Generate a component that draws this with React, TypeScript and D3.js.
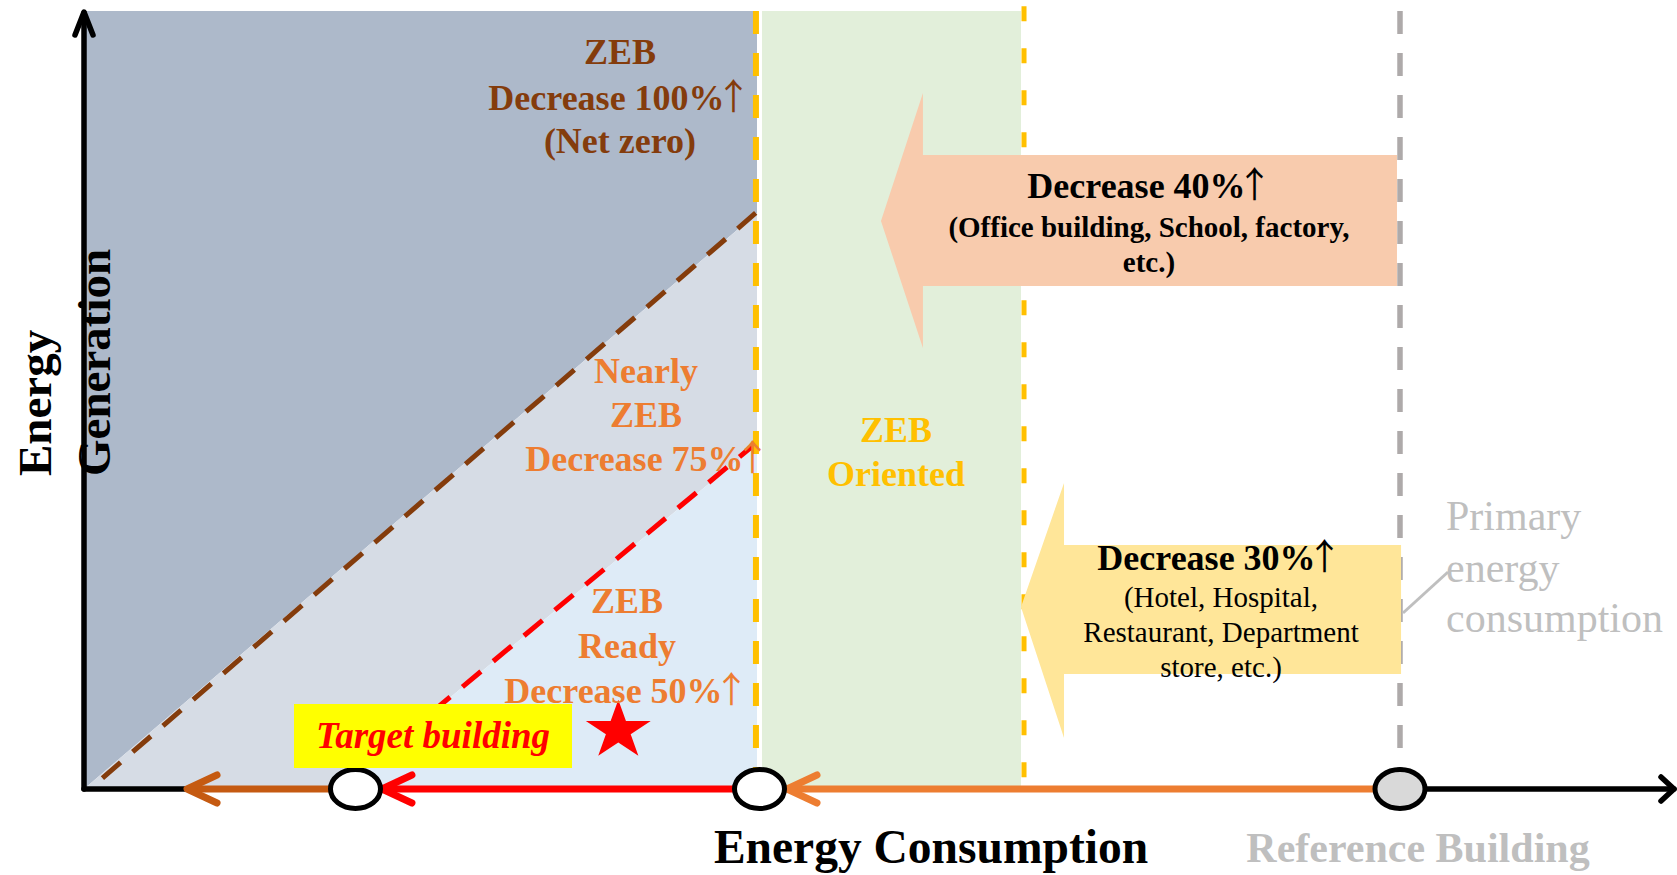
import React from "react";
import * as d3 from "d3";

const W = 1677;
const H = 875;

// Energy consumption (x) and generation (y), both in % of the reference building
const xDomain = [0, 100];
const yDomain = [0, 100];

// zone edges on the consumption axis
const netZeroEdge = [51.14];
const orientedZone = [51.52, 71.2];
const orangeDashX = [51.06, 71.43];
const orangeDashTop = [100, 100.6];
const referenceX = [100];

// sloped boundaries: [x at axis, y at net-zero column]
const zebBoundary = [0, 74.04];
const nearlyBoundary = [19.4, 44.34];

// building markers on the consumption axis
const markerX = [20.63, 51.33, 100];
const markerFill = ["#ffffff", "#ffffff", "#d9d9d9"];
// reduction arrows along the axis: start marker index -> tip
const flowFrom = [0, 1, 2];
const flowTipX = [7.83, 22.64, 53.42];
const flowColor = ["#c55a11", "#ff0000", "#ed7d31"];

// block arrows [tipX, headX, rightX] / [tipY, headTop, bodyTop, bodyBottom, headBottom]
const arrow40X = [60.56, 63.75, 99.77];
const arrow40Y = [73.01, 89.46, 81.49, 64.65, 56.68];
const arrow30X = [71.2, 74.47, 100.08];
const arrow30Y = [23.39, 39.33, 31.36, 14.78, 6.56];

// star for the target building
const starPos = [40.6, 7.5];

// texts
const zebLines = ["ZEB", "Decrease 100%↑", "(Net zero)"];
const nearlyLines = ["Nearly", "ZEB", "Decrease 75%↑"];
const readyLines = ["ZEB", "Ready", "Decrease 50%↑"];
const orientedLines = ["ZEB", "Oriented"];
const dec40Title = "Decrease 40%↑";
const dec40Lines = ["(Office building, School, factory,", "etc.)"];
const dec30Title = "Decrease 30%↑";
const dec30Lines = ["(Hotel, Hospital,", "Restaurant, Department", "store, etc.)"];
const primaryLines = ["Primary", "energy", "consumption"];
const targetLabel = "Target building";
const xTitle = "Energy Consumption";
const yTitle = ["Energy", "Generation"];
const refLabel = "Reference Building";

const FONT = "'Liberation Serif', 'Times New Roman', serif";

// render the up-arrow with a thin CJK glyph like the original
function Label({ text }: { text: string }) {
  const parts = text.split("↑");
  if (parts.length === 1) return <>{text}</>;
  return (
    <>
      {parts[0]}
      <tspan fontFamily="'Noto Sans CJK SC', 'DejaVu Sans', sans-serif" fontWeight="normal" dx={-9}>↑</tspan>
      {parts[1]}
    </>
  );
}

export default function App() {
  const x = d3.scaleLinear().domain(xDomain).range([84, 1400]);
  const y = d3.scaleLinear().domain(yDomain).range([789, 11]);
  const line = d3.line<[number, number]>().x((d) => x(d[0])).y((d) => y(d[1]));
  const poly = (pts: [number, number][]) => line(pts) + "Z";

  const edge = netZeroEdge[0];
  const darkPts: [number, number][] = [[0, 0], [0, 100], [edge, 100], [edge, zebBoundary[1]]];
  const midPts: [number, number][] = [[0, 0], [edge, zebBoundary[1]], [edge, nearlyBoundary[1]], [nearlyBoundary[0], 0]];
  const lightPts: [number, number][] = [[nearlyBoundary[0], 0], [edge, nearlyBoundary[1]], [edge, 0]];

  const blockArrow = (ax: number[], ay: number[]): [number, number][] => [
    [ax[0], ay[0]],
    [ax[1], ay[1]],
    [ax[1], ay[2]],
    [ax[2], ay[2]],
    [ax[2], ay[3]],
    [ax[1], ay[3]],
    [ax[1], ay[4]],
  ];

  const star = d3.symbol().type(d3.symbolStar).size(1080)();
  const axisY = y(0);

  const chevron = (tx: number, ty: number, dx: number, dy: number) =>
    `M${tx + dx},${ty - dy}L${tx},${ty}L${tx + dx},${ty + dy}`;

  return (
    <svg width={W} height={H} style={{ display: "block", position: "absolute", left: 0, top: 0 }}
      fontFamily={FONT}>
      <rect width={W} height={H} fill="#ffffff" />
      {/* zones */}
      <path d={poly(darkPts)} fill="#adb9ca" />
      <path d={poly(midPts)} fill="#d6dce5" />
      <path d={poly(lightPts)} fill="#deebf7" />
      <rect x={x(orientedZone[0])} y={y(100)} width={x(orientedZone[1]) - x(orientedZone[0])}
        height={y(0) - y(100)} fill="#e2efda" />

      {/* sloped boundaries */}
      <path d={line([[zebBoundary[0] + 1.4, 1.4], [edge - 0.1, zebBoundary[1]]])} stroke="#843c0c"
        strokeWidth={5} strokeDasharray="24 16" fill="none" />
      <path d={line([[nearlyBoundary[0], 0], [edge - 0.15, nearlyBoundary[1]]])} stroke="#ff0000"
        strokeWidth={5} strokeDasharray="24 16" strokeDashoffset={0} fill="none" />

      {/* vertical dashed lines */}
      <line x1={x(orangeDashX[0])} x2={x(orangeDashX[0])} y1={y(orangeDashTop[0])} y2={y(0)}
        stroke="#ffc000" strokeWidth={6} strokeDasharray="23 19" />
      <line x1={x(orangeDashX[1])} x2={x(orangeDashX[1])} y1={y(orangeDashTop[1])} y2={y(0)}
        stroke="#ffc000" strokeWidth={5} strokeDasharray="15 27" />
      <line x1={x(referenceX[0])} x2={x(referenceX[0])} y1={y(100)} y2={y(0)}
        stroke="#aeaaaa" strokeWidth={5.5} strokeDasharray="23 19" />

      {/* block arrows */}
      <path d={poly(blockArrow(arrow40X, arrow40Y))} fill="#f8cbad" />
      <path d={poly(blockArrow(arrow30X, arrow30Y))} fill="#ffe699" />

      {/* axes */}
      <g stroke="#000" strokeWidth={5.5} fill="none" strokeLinecap="round" strokeLinejoin="round">
        <line x1={x(0)} y1={axisY} x2={x(0)} y2={y(100) + 2} />
        <path d={`M${x(0) - 9},${y(100) + 24}L${x(0)},${y(100) + 1}L${x(0) + 9},${y(100) + 24}`} />
        <line x1={x(0)} y1={axisY} x2={1674} y2={axisY} />
        <path d={`M1661,${axisY - 12}L1674,${axisY}L1661,${axisY + 12}`} />
      </g>

      {/* flows */}
      {flowFrom.map((fi, i) => (
        <g key={i} stroke={flowColor[i]} strokeWidth={7} fill="none" strokeLinecap="round" strokeLinejoin="round">
          <line x1={x(markerX[fi])} y1={axisY} x2={x(flowTipX[i]) + 2} y2={axisY} strokeLinecap="butt" />
          <path d={chevron(x(flowTipX[i]), axisY, 30, 14)} />
        </g>
      ))}

      {/* markers */}
      {markerX.map((m, i) => (
        <ellipse key={i} cx={x(m)} cy={axisY} rx={25} ry={19.5} fill={markerFill[i]} stroke="#000" strokeWidth={5} />
      ))}

      {/* target building */}
      <rect x={294} y={704} width={278} height={64} fill="#ffff00" />
      <text x={433} y={748} textAnchor="middle" fontSize={37} fontWeight="bold" fontStyle="italic" fill="#ff0000">
        {targetLabel}
      </text>
      <path d={star} transform={`translate(${x(starPos[0])},${y(starPos[1])}) scale(1.1,1)`} fill="#ff0000" />

      {/* zone labels */}
      <g fontSize={36} fontWeight="bold" textAnchor="middle">
        {zebLines.map((t, i) => (
          <text key={i} x={620} y={[64, 110, 153][i]} fill="#843c0c"><Label text={t} /></text>
        ))}
        {nearlyLines.map((t, i) => (
          <text key={i} x={[646, 646, 648][i]} y={[383, 427, 471][i]} fill="#ed7d31"><Label text={t} /></text>
        ))}
        {readyLines.map((t, i) => (
          <text key={i} x={627} y={[613, 658, 703][i]} fill="#ed7d31"><Label text={t} /></text>
        ))}
        {orientedLines.map((t, i) => (
          <text key={i} x={896} y={[442, 486][i]} fill="#ffc000">{t}</text>
        ))}
        <text x={1150} y={198} fill="#000"><Label text={dec40Title} /></text>
        <text x={1220} y={570} fill="#000"><Label text={dec30Title} /></text>
      </g>
      <g fontSize={29} fontWeight="bold" textAnchor="middle" fill="#000">
        {dec40Lines.map((t, i) => (
          <text key={i} x={1149} y={[237, 272][i]}>{t}</text>
        ))}
      </g>
      <g fontSize={29} textAnchor="middle" fill="#000">
        {dec30Lines.map((t, i) => (
          <text key={i} x={1221} y={[607, 642, 677][i]}>{t}</text>
        ))}
      </g>

      {/* primary energy consumption */}
      <line x1={1403} y1={613} x2={1448} y2={572} stroke="#bfbfbf" strokeWidth={3} />
      <g fontSize={42} fill="#bfbfbf">
        {primaryLines.map((t, i) => (
          <text key={i} x={1446} y={[530, 582, 632][i]}>{t}</text>
        ))}
      </g>

      {/* axis titles */}
      <text x={931} y={863} textAnchor="middle" fontSize={47.5} fontWeight="bold" fill="#000">{xTitle}</text>
      <text x={1418} y={862} textAnchor="middle" fontSize={42} fontWeight="bold" fill="#bfbfbf">{refLabel}</text>
      {yTitle.map((t, i) => (
        <text key={i} transform={`translate(${[51, 110][i]},476) rotate(-90)`} fontSize={47} fontWeight="bold" fill="#000">
          {t}
        </text>
      ))}
    </svg>
  );
}
